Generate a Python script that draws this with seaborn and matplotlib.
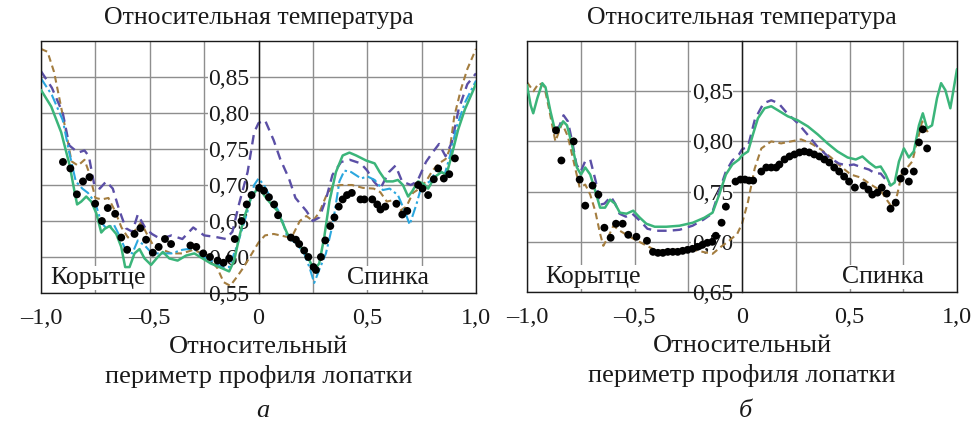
import matplotlib
matplotlib.use("Agg")
import matplotlib.pyplot as plt
import seaborn as sns

# ---------------- panel "а" ----------------
a_green_x = [-1.0, -0.953, -0.907, -0.868, -0.846, -0.834, -0.815, -0.792, -0.769, -0.746, -0.723, -0.708,
             -0.685, -0.654, -0.631, -0.613, -0.593, -0.570, -0.547, -0.524, -0.494, -0.463, -0.440, -0.410,
             -0.372, -0.333, -0.295, -0.257, -0.219, -0.180, -0.150, -0.135, -0.112, -0.089, -0.066, -0.035,
             0.0, 0.04, 0.087, 0.133, 0.179, 0.218, 0.256, 0.279, 0.302, 0.326, 0.356, 0.387, 0.418, 0.449,
             0.495, 0.534, 0.557, 0.587, 0.618, 0.641, 0.664, 0.688, 0.706, 0.734, 0.757, 0.780, 0.810, 0.841,
             0.864, 0.888, 0.918, 0.949, 0.988, 1.0]
a_green_y = [0.832, 0.809, 0.773, 0.727, 0.691, 0.673, 0.677, 0.684, 0.677, 0.661, 0.634, 0.639,
             0.643, 0.632, 0.614, 0.586, 0.586, 0.605, 0.611, 0.598, 0.589, 0.600, 0.607, 0.598,
             0.595, 0.602, 0.605, 0.598, 0.591, 0.586, 0.582, 0.580, 0.595, 0.627, 0.655, 0.682,
             0.697, 0.680, 0.664, 0.632, 0.620, 0.605, 0.582, 0.591, 0.627, 0.677, 0.718, 0.741, 0.745, 0.741,
             0.734, 0.730, 0.718, 0.705, 0.705, 0.707, 0.700, 0.684, 0.691, 0.705, 0.702, 0.695, 0.711, 0.718,
             0.714, 0.741, 0.777, 0.805, 0.832, 0.841]

a_cyan_x = [-1.0, -0.95, -0.9, -0.87, -0.84, -0.81, -0.784, -0.75, -0.723, -0.70, -0.665, -0.64, -0.61,
            -0.58, -0.555, -0.52, -0.49, -0.45, -0.40, -0.35, -0.30, -0.25, -0.20, -0.16, -0.135, -0.096,
            -0.05, -0.02, 0.0, 0.025, 0.06, 0.10, 0.133, 0.17, 0.21, 0.235, 0.256, 0.279, 0.31, 0.341, 0.372,
            0.395, 0.426, 0.472, 0.50, 0.534, 0.572, 0.603, 0.641, 0.672, 0.695, 0.726, 0.749, 0.788, 0.818,
            0.857, 0.88, 0.91, 0.95, 1.0]
a_cyan_y = [0.848, 0.825, 0.79, 0.745, 0.705, 0.695, 0.689, 0.675, 0.648, 0.640, 0.645, 0.630, 0.609,
            0.605, 0.623, 0.615, 0.605, 0.605, 0.605, 0.610, 0.612, 0.600, 0.592, 0.585, 0.586, 0.618,
            0.664, 0.700, 0.709, 0.700, 0.680, 0.660, 0.627, 0.620, 0.605, 0.585, 0.564, 0.582, 0.605, 0.645,
            0.705, 0.720, 0.718, 0.709, 0.712, 0.707, 0.693, 0.695, 0.686, 0.664, 0.645, 0.673, 0.698, 0.705,
            0.720, 0.716, 0.74, 0.78, 0.815, 0.845]

a_purple_x = [-1.0, -0.95, -0.9, -0.87, -0.83, -0.80, -0.78, -0.755, -0.73, -0.70, -0.67, -0.64, -0.61,
              -0.58, -0.555, -0.52, -0.49, -0.45, -0.40, -0.35, -0.30, -0.25, -0.20, -0.15, -0.12, -0.09,
              -0.05, -0.02, 0.0, 0.03, 0.07, 0.10, 0.14, 0.17, 0.22, 0.25, 0.28, 0.31, 0.34, 0.38, 0.42,
              0.47, 0.50, 0.53, 0.56, 0.60, 0.63, 0.66, 0.70, 0.73, 0.77, 0.80, 0.83, 0.86, 0.89, 0.92,
              0.96, 1.0]
a_purple_y = [0.858, 0.835, 0.80, 0.755, 0.745, 0.748, 0.74, 0.70, 0.695, 0.705, 0.695, 0.665, 0.64,
              0.635, 0.659, 0.64, 0.632, 0.625, 0.630, 0.625, 0.641, 0.630, 0.628, 0.625, 0.635, 0.673,
              0.718, 0.773, 0.786, 0.79, 0.762, 0.736, 0.709, 0.682, 0.664, 0.650, 0.655, 0.68, 0.714, 0.732,
              0.735, 0.73, 0.72, 0.705, 0.695, 0.718, 0.727, 0.705, 0.70, 0.705, 0.732, 0.745, 0.757, 0.74,
              0.76, 0.805, 0.84, 0.855]

a_brown_x = [-1.0, -0.97, -0.94, -0.91, -0.88, -0.86, -0.83, -0.80, -0.78, -0.75, -0.72, -0.69, -0.66,
             -0.63, -0.60, -0.57, -0.54, -0.51, -0.48, -0.44, -0.40, -0.35, -0.30, -0.26, -0.22, -0.19,
             -0.16, -0.13, -0.10, -0.07, -0.04, 0.0, 0.03, 0.07, 0.10, 0.13, 0.16, 0.19, 0.22, 0.25, 0.28,
             0.31, 0.34, 0.38, 0.43, 0.48, 0.53, 0.56, 0.59, 0.62, 0.65, 0.68, 0.71, 0.74, 0.77, 0.80, 0.83,
             0.86, 0.88, 0.90, 0.93, 0.96, 1.0]
a_brown_y = [0.889, 0.885, 0.857, 0.812, 0.766, 0.733, 0.727, 0.735, 0.718, 0.682, 0.680, 0.682, 0.664,
             0.641, 0.627, 0.636, 0.648, 0.630, 0.614, 0.610, 0.605, 0.605, 0.610, 0.605, 0.595, 0.585,
             0.565, 0.560, 0.572, 0.585, 0.600, 0.620, 0.630, 0.632, 0.630, 0.628, 0.632, 0.650, 0.657,
             0.650, 0.662, 0.684, 0.698, 0.700, 0.700, 0.696, 0.695, 0.690, 0.677, 0.679, 0.664, 0.670,
             0.689, 0.695, 0.705, 0.720, 0.730, 0.736, 0.750, 0.795, 0.832, 0.861, 0.889]

a_exp_x = [-0.899, -0.865, -0.835, -0.807, -0.777, -0.751, -0.720, -0.693, -0.659, -0.631, -0.604, -0.570,
           -0.543, -0.517, -0.486, -0.459, -0.430, -0.402, -0.313, -0.286, -0.254, -0.223, -0.188, -0.161,
           -0.135, -0.109, -0.078, -0.054, -0.032, 0.003, 0.025, 0.048, 0.072, 0.090, 0.149, 0.172, 0.187,
           0.210, 0.229, 0.253, 0.264, 0.287, 0.307, 0.330, 0.349, 0.369, 0.387, 0.407, 0.429, 0.469, 0.487,
           0.523, 0.546, 0.561, 0.583, 0.634, 0.661, 0.684, 0.734, 0.754, 0.780, 0.806, 0.826, 0.852, 0.877,
           0.903]
a_exp_y = [0.732, 0.723, 0.687, 0.705, 0.711, 0.674, 0.650, 0.668, 0.660, 0.627, 0.610, 0.632,
           0.640, 0.624, 0.606, 0.614, 0.625, 0.618, 0.616, 0.614, 0.605, 0.600, 0.595, 0.592,
           0.598, 0.625, 0.650, 0.673, 0.686, 0.696, 0.692, 0.683, 0.673, 0.658, 0.627, 0.624, 0.618,
           0.609, 0.600, 0.586, 0.582, 0.600, 0.623, 0.643, 0.655, 0.670, 0.680, 0.686, 0.689, 0.680, 0.680,
           0.680, 0.673, 0.666, 0.670, 0.674, 0.659, 0.664, 0.700, 0.695, 0.686, 0.708, 0.723, 0.709, 0.715,
           0.737]

# ---------------- panel "б" ----------------
b_green_x = [-1.0, -0.983, -0.971, -0.952, -0.929, -0.914, -0.891, -0.872, -0.852, -0.832, -0.814, -0.791,
             -0.768, -0.749, -0.729, -0.706, -0.683, -0.66, -0.637, -0.614, -0.591, -0.568, -0.537, -0.506,
             -0.475, -0.445, -0.406, -0.352, -0.291, -0.229, -0.175, -0.137, -0.106, -0.075, -0.045, -0.014,
             0.0, 0.028, 0.051, 0.074, 0.105, 0.136, 0.167, 0.213, 0.259, 0.306, 0.352, 0.398, 0.444, 0.491,
             0.529, 0.560, 0.591, 0.622, 0.645, 0.668, 0.691, 0.710, 0.730, 0.753, 0.776, 0.799, 0.823, 0.841,
             0.861, 0.884, 0.907, 0.926, 0.946, 0.969, 0.985, 1.0]
b_green_y = [0.856, 0.836, 0.828, 0.843, 0.858, 0.854, 0.830, 0.813, 0.813, 0.820, 0.816, 0.797,
             0.774, 0.767, 0.774, 0.767, 0.751, 0.734, 0.734, 0.742, 0.738, 0.729, 0.728, 0.731,
             0.724, 0.718, 0.715, 0.715, 0.716, 0.719, 0.724, 0.729, 0.747, 0.767, 0.777, 0.782,
             0.786, 0.790, 0.807, 0.823, 0.833, 0.835, 0.831, 0.825, 0.821, 0.815, 0.807, 0.798, 0.790, 0.784,
             0.782, 0.785, 0.779, 0.774, 0.775, 0.767, 0.756, 0.759, 0.780, 0.793, 0.784, 0.790, 0.816, 0.828,
             0.813, 0.816, 0.843, 0.858, 0.851, 0.833, 0.853, 0.872]

b_purple_x = [-0.87, -0.85, -0.83, -0.81, -0.79, -0.77, -0.75, -0.73, -0.706, -0.68, -0.66, -0.64, -0.61,
              -0.59, -0.57, -0.54, -0.51, -0.47, -0.44, -0.40, -0.34, -0.29, -0.23, -0.18, -0.14, -0.11,
              -0.075, -0.045, -0.014, 0.0, 0.028, 0.06, 0.10, 0.136, 0.17, 0.21, 0.26, 0.30, 0.35, 0.40,
              0.45, 0.49, 0.52, 0.56, 0.59, 0.62, 0.645, 0.668, 0.69]
b_purple_y = [0.812, 0.815, 0.826, 0.82, 0.80, 0.777, 0.77, 0.78, 0.782, 0.76, 0.737, 0.738, 0.745,
              0.738, 0.728, 0.725, 0.728, 0.72, 0.713, 0.711, 0.711, 0.712, 0.716, 0.722, 0.728, 0.748,
              0.77, 0.781, 0.787, 0.792, 0.795, 0.822, 0.838, 0.841, 0.838, 0.828, 0.818, 0.808, 0.795, 0.785,
              0.778, 0.776, 0.777, 0.774, 0.772, 0.768, 0.768, 0.762, 0.756]

b_brown_x = [-1.0, -0.97, -0.945, -0.92, -0.90, -0.868, -0.837, -0.81, -0.783, -0.755, -0.729, -0.706,
             -0.683, -0.66, -0.645, -0.622, -0.598, -0.568, -0.522, -0.46, -0.398, -0.322, -0.245, -0.183,
             -0.137, -0.098, -0.06, -0.022, 0.0, 0.028, 0.059, 0.09, 0.136, 0.182, 0.228, 0.275, 0.321,
             0.367, 0.414, 0.46, 0.506, 0.552, 0.599, 0.645, 0.676, 0.699, 0.722, 0.745, 0.769, 0.792, 0.815,
             0.838, 0.861, 0.88]
b_brown_y = [0.859, 0.85, 0.858, 0.855, 0.835, 0.800, 0.818, 0.805, 0.780, 0.754, 0.757, 0.747,
             0.731, 0.708, 0.696, 0.705, 0.716, 0.711, 0.705, 0.698, 0.691, 0.692, 0.693, 0.690,
             0.688, 0.695, 0.701, 0.708, 0.718, 0.740, 0.773, 0.793, 0.800, 0.798, 0.800, 0.802, 0.798,
             0.792, 0.784, 0.775, 0.767, 0.764, 0.757, 0.751, 0.741, 0.734, 0.747, 0.770, 0.774, 0.780, 0.800,
             0.820, 0.810, 0.812]

b_exp_x = [-0.865, -0.84, -0.783, -0.755, -0.729, -0.695, -0.668, -0.64, -0.611, -0.586, -0.555, -0.529,
           -0.491, -0.442, -0.414, -0.391, -0.368, -0.345, -0.322, -0.299, -0.276, -0.253, -0.230, -0.207,
           -0.184, -0.161, -0.138, -0.122, -0.095, -0.075, -0.03, -0.007, 0.014, 0.033, 0.052, 0.09, 0.113,
           0.136, 0.159, 0.174, 0.198, 0.221, 0.244, 0.267, 0.29, 0.313, 0.336, 0.36, 0.383, 0.406, 0.429,
           0.452, 0.475, 0.498, 0.525, 0.565, 0.588, 0.606, 0.630, 0.650, 0.673, 0.691, 0.715, 0.738, 0.756,
           0.776, 0.799, 0.823, 0.841, 0.861]
b_exp_y = [0.811, 0.781, 0.800, 0.762, 0.736, 0.756, 0.747, 0.714, 0.704, 0.718, 0.718, 0.707,
           0.705, 0.701, 0.690, 0.689, 0.689, 0.690, 0.690, 0.690, 0.691, 0.692, 0.693, 0.695,
           0.697, 0.699, 0.700, 0.706, 0.719, 0.735, 0.760, 0.762, 0.762, 0.761, 0.761, 0.770, 0.774,
           0.774, 0.774, 0.777, 0.782, 0.785, 0.787, 0.789, 0.790, 0.789, 0.787, 0.785, 0.782, 0.779, 0.774,
           0.770, 0.765, 0.760, 0.754, 0.756, 0.752, 0.747, 0.749, 0.754, 0.748, 0.733, 0.739, 0.763, 0.770,
           0.760, 0.770, 0.799, 0.812, 0.793]

x_ticks = [-1.0, -0.5, 0.0, 0.5, 1.0]
x_tick_labels = ["–1,0", "–0,5", "0", "0,5", "1,0"]
x_minor = [-0.75, -0.25, 0.25, 0.75]
a_yticks = [0.55, 0.60, 0.65, 0.70, 0.75, 0.80, 0.85]
a_ytick_labels = ["0,55", "0,60", "0,65", "0,70", "0,75", "0,80", "0,85"]
b_yticks = [0.65, 0.70, 0.75, 0.80, 0.85]
b_ytick_labels = ["0,65", "0,70", "0,75", "0,80", "0,85"]

title_text = "Относительная температура"
xlabel_text = "Относительный\nпериметр профиля лопатки"
left_side = "Корытце"
right_side = "Спинка"

GREEN = "#3bb57a"
CYAN = "#2ba7de"
PURPLE = "#5b4fa6"
BROWN = "#a47d3f"
INK = "#1a1a1a"
GRID = "#8e8e8e"

sns.set_style("white")
plt.rcParams["font.family"] = ["Liberation Serif", "DejaVu Serif"]

fig = plt.figure(figsize=(9.71, 4.21), dpi=100)
ax_a = fig.add_axes([41 / 971, 128 / 421, 435 / 971, 252 / 421])
ax_b = fig.add_axes([527 / 971, 129 / 421, 430 / 971, 251 / 421])


def style_panel(ax, ylim, yticks, ylabels, left_x, right_x, letter, letter_x):
    # the y axis sits on the leading edge (x = 0); moving the spine resets the ticks,
    # so it has to happen before the ticks are configured
    for sp in ax.spines.values():
        sp.set_color(INK)
        sp.set_linewidth(1.0)
        sp.set_visible(True)
    ax.spines["left"].set_position(("data", 0.0))
    ax.axvline(-1.0, color=INK, linewidth=1.0, clip_on=False, zorder=2.5)

    ax.set_xlim(-1.0, 1.0)
    ax.set_ylim(*ylim)
    ax.set_axisbelow(True)
    ax.set_xticks(x_ticks)
    ax.set_xticklabels(x_tick_labels, fontsize=17.5)
    ax.set_xticks(x_minor, minor=True)
    ax.set_yticks(yticks)
    ax.set_yticklabels(ylabels, fontsize=17)
    ax.grid(True, which="both", axis="x", color=GRID, linewidth=1.0)
    ax.grid(True, which="major", axis="y", color=GRID, linewidth=1.0)
    ax.tick_params(axis="x", which="both", length=0, pad=11, colors=INK)
    ax.tick_params(axis="y", direction="out", length=5, width=1.0, pad=1.5, colors=INK)
    for lbl in ax.get_yticklabels():
        lbl.set_bbox(dict(facecolor="white", edgecolor="none", pad=0.3))

    ax.set_xlabel(xlabel_text, fontsize=19, linespacing=1.38, labelpad=5, color=INK)
    ax.set_ylabel("")
    ax.text(0.5, 1.09, title_text, transform=ax.transAxes, ha="center", va="center",
            fontsize=18.5, color=INK)
    bbox = dict(facecolor="white", edgecolor="none", pad=0.5)
    ax.text(left_x, 0.06, left_side, transform=ax.transAxes, ha="left", va="center",
            fontsize=18.5, color=INK, bbox=bbox, zorder=1)
    ax.text(right_x, 0.06, right_side, transform=ax.transAxes, ha="left", va="center",
            fontsize=18.5, color=INK, bbox=bbox, zorder=1)
    fig.text(letter_x, 10 / 421, letter, ha="center", va="center", fontsize=19,
             style="italic", color=INK)


def line(ax, xs, ys, color, ls, lw, z=2):
    sns.lineplot(x=xs, y=ys, ax=ax, color=color, linestyle=ls, linewidth=lw,
                 sort=False, estimator=None, legend=False, zorder=z)


def dots(ax, xs, ys):
    sns.scatterplot(x=xs, y=ys, ax=ax, color="black", s=32, edgecolor="none",
                    legend=False, zorder=4)


# panel а
line(ax_a, a_brown_x, a_brown_y, BROWN, (0, (3.2, 2.0)), 1.5)
line(ax_a, a_purple_x, a_purple_y, PURPLE, (0, (4.0, 2.6)), 1.7)
line(ax_a, a_cyan_x, a_cyan_y, CYAN, (0, (5.0, 1.6, 1.2, 1.6)), 1.5)
line(ax_a, a_green_x, a_green_y, GREEN, "-", 1.8, 3)
dots(ax_a, a_exp_x, a_exp_y)
style_panel(ax_a, (0.55, 0.90), a_yticks, a_ytick_labels, 0.022, 0.703, "а", 263 / 971)

# panel б
line(ax_b, b_brown_x, b_brown_y, BROWN, (0, (3.2, 2.0)), 1.5)
line(ax_b, b_purple_x, b_purple_y, PURPLE, (0, (4.0, 2.6)), 1.7)
line(ax_b, b_green_x, b_green_y, GREEN, "-", 1.8, 3)
dots(ax_b, b_exp_x, b_exp_y)
style_panel(ax_b, (0.65, 0.90), b_yticks, b_ytick_labels, 0.042, 0.733, "б", 745 / 971)

fig.savefig("out.png", dpi=100)
